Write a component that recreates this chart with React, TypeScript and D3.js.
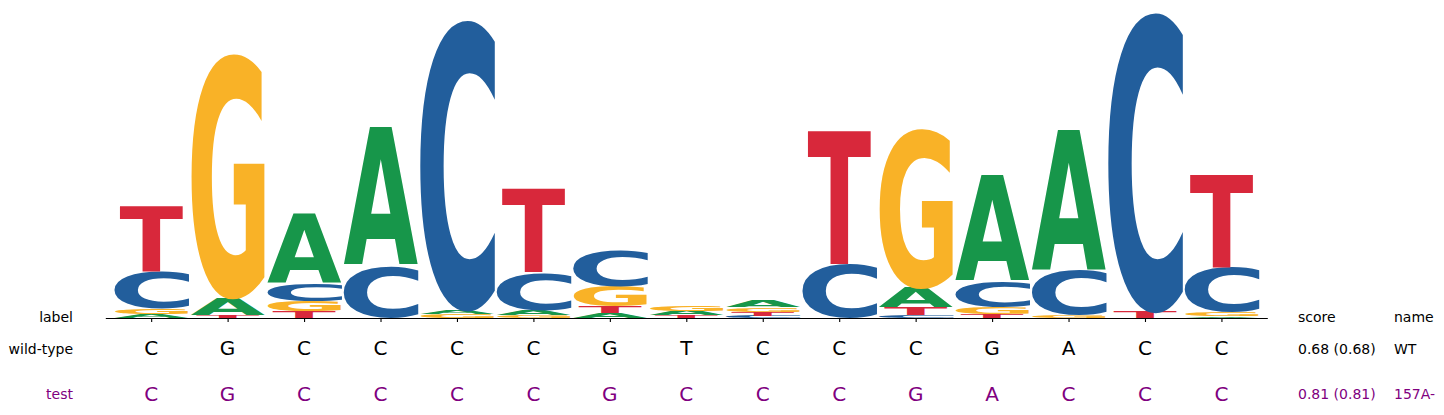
import React, { useRef, useEffect } from 'react';
import * as d3 from 'd3';

// logo positions (0-based) and per-base heights
const positions = [0, 1, 2, 3, 4, 5, 6, 7, 8, 9, 10, 11, 12, 13, 14];
const bases = ['A', 'C', 'G', 'T'];
const heightA = [0.026, 0.110, 0.452, 0.897, 0.027, 0.032, 0.032, 0.030, 0.042, 0, 0.129, 0.690, 0.910, 0, 0.010];
const heightC = [0.242, 0, 0.110, 0.335, 1.884, 0.245, 0.232, 0, 0.013, 0.348, 0.019, 0.168, 0.287, 1.942, 0.290];
const heightG = [0.035, 1.587, 0.065, 0, 0.025, 0.019, 0.129, 0.032, 0.029, 0, 1.032, 0.045, 0.019, 0, 0.029];
const heightT = [0.426, 0.019, 0.042, 0, 0, 0.548, 0.042, 0.016, 0.026, 0.865, 0.048, 0.023, 0, 0.042, 0.600];

const wildType = ['C', 'G', 'C', 'C', 'C', 'C', 'G', 'T', 'C', 'C', 'C', 'G', 'A', 'C', 'C'];
const testSeq = ['C', 'G', 'C', 'C', 'C', 'C', 'G', 'C', 'C', 'C', 'G', 'A', 'C', 'C', 'C'];

const rowLabels = ['wild-type', 'test'];
const rowScores = ['0.68 (0.68)', '0.81 (0.81)'];
const rowNames = ['WT', '157A-'];

const baseColor: Record<string, string> = {
  A: '#17964a',
  C: '#225e9c',
  G: '#f9b227',
  T: '#d8283b',
};
// fraction of the column each glyph gets horizontally
const glyphWidth: Record<string, number> = { A: 0.97, C: 0.99, G: 0.97, T: 0.83 };

const W = 1444;
const H = 415;
const FONT = '"DejaVu Sans", sans-serif';

const App: React.FC = () => {
  const svgRef = useRef<SVGSVGElement | null>(null);

  useEffect(() => {
    const svg = d3.select(svgRef.current);
    svg.selectAll('*').remove();

    const x = d3.scaleLinear().domain([-0.6, 14.6]).range([105.3, 1267.3]);
    const y = d3.scaleLinear().domain([0, 2]).range([318, 8]);
    const colW = x(1) - x(0);

    // measure ink bounds of each glyph so it can be stretched to its box
    const ctx = document.createElement('canvas').getContext('2d')!;
    ctx.font = `bold 100px ${FONT}`;
    const ink: Record<string, { l: number; r: number; a: number; d: number }> = {};
    bases.forEach(b => {
      const m = ctx.measureText(b);
      ink[b] = {
        l: m.actualBoundingBoxLeft,
        r: m.actualBoundingBoxRight,
        a: m.actualBoundingBoxAscent,
        d: m.actualBoundingBoxDescent,
      };
    });

    const table: Record<string, number[]> = { A: heightA, C: heightC, G: heightG, T: heightT };

    const logo = svg.append('g');
    positions.forEach(p => {
      const stack = bases
        .map(b => ({ b, v: table[b][p] }))
        .filter(d => d.v > 0)
        .sort((a, b) => a.v - b.v);
      let base = 0;
      stack.forEach(({ b, v }) => {
        const y0 = y(base);
        const y1 = y(base + v);
        base += v;
        const m = ink[b];
        const w = glyphWidth[b] * colW;
        const x0 = x(p) - w / 2;
        const sx = w / (m.l + m.r);
        const sy = (y0 - y1) / (m.a + m.d);
        logo.append('text')
          .attr('x', 0)
          .attr('y', 0)
          .attr('transform', `translate(${x0 + m.l * sx},${y0 - m.d * sy}) scale(${sx},${sy})`)
          .attr('font-family', FONT)
          .attr('font-weight', 'bold')
          .attr('font-size', 100)
          .attr('fill', baseColor[b])
          .text(b);
      });
    });

    // x axis spine with ticks, no labels
    const axis = svg.append('g')
      .attr('transform', 'translate(0,318)')
      .call(d3.axisBottom(x).tickValues(positions).tickSize(4).tickSizeOuter(0).tickFormat(() => ''));
    axis.select('.domain').attr('stroke', '#000').attr('stroke-width', 1.1);
    axis.selectAll('.tick line').attr('stroke', '#000').attr('stroke-width', 1.1);

    // header texts
    svg.append('text').attr('x', 73).attr('y', 322).attr('text-anchor', 'end')
      .attr('font-family', FONT).attr('font-size', 14).text('label');
    svg.append('text').attr('x', 1298).attr('y', 322)
      .attr('font-family', FONT).attr('font-size', 14).text('score');
    svg.append('text').attr('x', 1394).attr('y', 322)
      .attr('font-family', FONT).attr('font-size', 14).text('name');

    const rows = [wildType, testSeq];
    const rowColor = ['#000000', '#800080'];
    const rowBaseline = [353.5, 399.3];
    rows.forEach((seq, i) => {
      const g = svg.append('g').attr('fill', rowColor[i]).attr('font-family', FONT);
      g.append('text').attr('x', 73).attr('y', rowBaseline[i]).attr('text-anchor', 'end')
        .attr('font-size', 14).text(rowLabels[i]);
      g.selectAll('text.seq')
        .data(seq)
        .enter()
        .append('text')
        .attr('class', 'seq')
        .attr('x', (_d, j) => x(positions[j]))
        .attr('y', rowBaseline[i] + 1.8)
        .attr('text-anchor', 'middle')
        .attr('font-size', 20)
        .text(d => d);
      g.append('text').attr('x', 1298).attr('y', rowBaseline[i])
        .attr('font-size', 14).text(rowScores[i]);
      g.append('text').attr('x', 1394).attr('y', rowBaseline[i])
        .attr('font-size', 14).text(rowNames[i]);
    });
  }, []);

  return (
    <svg
      ref={svgRef}
      width={W}
      height={H}
      style={{ position: 'absolute', left: 0, top: 0, background: '#fff' }}
    />
  );
};

export default App;
